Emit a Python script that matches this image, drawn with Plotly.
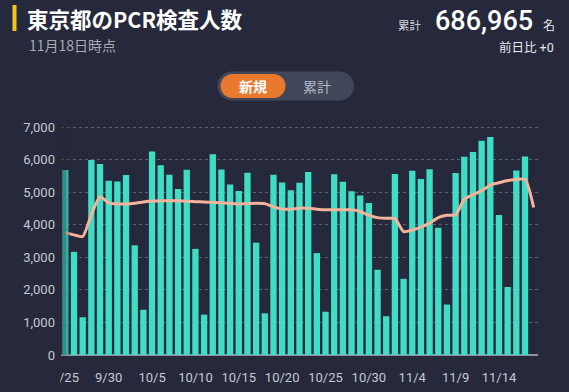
import pandas as pd
import plotly.graph_objects as go

# ---------------- data ----------------
dates = [f"{d.month}/{d.day}" for d in pd.date_range("2020-09-25", "2020-11-18")]

tests = [5680, 3170, 1160, 5990, 5870, 5350, 5330, 5530, 3370, 1390,
         6250, 5830, 5540, 5100, 5690, 3260, 1240, 6170, 5700, 5240,
         5040, 5600, 3450, 1280, 5540, 5300, 5060, 5290, 5620, 3130,
         1330, 5550, 5320, 5030, 4900, 4670, 2620, 1190, 5560, 2340,
         5660, 5410, 5710, 3910, 1550, 5590, 6090, 6240, 6580, 6700,
         4300, 2090, 5670, 6100, 0]

avg7 = [3760, 3690, 3640, 4310, 4860, 4670, 4640, 4640, 4660, 4700,
        4730, 4740, 4740, 4740, 4720, 4710, 4700, 4690, 4680, 4660,
        4640, 4650, 4660, 4650, 4550, 4480, 4480, 4510, 4510, 4480,
        4460, 4460, 4460, 4460, 4410, 4290, 4220, 4200, 4190, 3790,
        3840, 3930, 4050, 4220, 4290, 4310, 4780, 4920, 5050, 5220,
        5290, 5360, 5390, 5400, 4530]

tick_labels = dates[::5]
y_ticks = [0, 1000, 2000, 3000, 4000, 5000, 6000, 7000]

title = "東京都のPCR検査人数"
subtitle = "11月18日時点"
total_label = "累計"
total_value = "686,965"
total_unit = "名"
diff_text = "前日比 +0"
toggle_labels = ["新規", "累計"]

# ---------------- layout geometry ----------------
W, H = 569, 392
L, R, T, B = 61, 31, 126, 37
PW, PH = W - L - R, H - T - B

BG = "#25293b"
BAR = "#3fdcc6"
LINE = "#f5b39c"
JP = "Noto Sans CJK JP"


def px(x):
    return (x - L) / PW


def py(y):
    return (H - B - y) / PH


fig = go.Figure()
fig.add_trace(go.Bar(x=dates, y=tests, marker=dict(color=BAR, line=dict(width=0)),
                     hoverinfo="skip"))
fig.add_trace(go.Scatter(x=dates, y=avg7, mode="lines",
                         line=dict(color=LINE, width=3, shape="spline", smoothing=0.6),
                         hoverinfo="skip"))

shapes = []
# yellow title marker
shapes.append(dict(type="rect", xref="paper", yref="paper", x0=px(12.5), x1=px(16.5),
                   y0=py(31), y1=py(5), fillcolor="#f3c41a", line=dict(width=0)))


def pill(x0, x1, y0, y1, color):
    r = (y1 - y0) / 2
    out = [dict(type="rect", xref="paper", yref="paper", x0=px(x0 + r), x1=px(x1 - r),
                y0=py(y1), y1=py(y0), fillcolor=color, line=dict(width=0)),
           dict(type="circle", xref="paper", yref="paper", x0=px(x0), x1=px(x0 + 2 * r),
                y0=py(y1), y1=py(y0), fillcolor=color, line=dict(width=0)),
           dict(type="circle", xref="paper", yref="paper", x0=px(x1 - 2 * r), x1=px(x1),
                y0=py(y1), y1=py(y0), fillcolor=color, line=dict(width=0))]
    return out


shapes += pill(217.5, 354, 71.5, 100.5, "#41475a")
shapes += pill(220.5, 285.5, 74, 98, "#e8792d")

# scroll fade over the left edge of the plot
shapes.append(dict(type="rect", xref="paper", yref="paper", x0=px(60), x1=px(66),
                   y0=0, y1=1, fillcolor=BG, opacity=0.45, line=dict(width=0), layer="above"))
shapes.append(dict(type="rect", xref="paper", yref="paper", x0=px(66), x1=px(70),
                   y0=0, y1=1, fillcolor=BG, opacity=0.25, line=dict(width=0), layer="above"))
# mask clipping the first date label
shapes.append(dict(type="rect", xref="paper", yref="paper", x0=px(40), x1=px(60.3),
                   y0=py(392), y1=py(363), fillcolor=BG, line=dict(width=0), layer="above"))

ann = []


def text(t, x, y, size, color, xanchor="left", bold=False, family=JP, weight=None):
    f = dict(size=size, color=color, family=family)
    if weight:
        f["weight"] = weight
    ann.append(dict(text=f"<b>{t}</b>" if bold else t, x=px(x), y=py(y), xref="paper",
                    yref="paper", xanchor=xanchor, yanchor="middle", showarrow=False,
                    font=f))


text(title, 25, 18, 21.5, "#ffffff", bold=True)
text(subtitle, 27, 44.5, 14, "#a7abb6")
text(total_label, 423.5, 25, 11.5, "#d3d6dd", xanchor="right")
text(total_value, 433, 20.5, 27, "#ffffff", family="Roboto, " + JP, weight=500)
text(total_unit, 541, 24, 12, "#e6e8ec")
text(diff_text, 556, 47, 12.5, "#e6e8ec", xanchor="right", family="Roboto, " + JP)
text(toggle_labels[0], 253, 86, 14, "#ffffff", xanchor="center", bold=True)
text(toggle_labels[1], 317, 86, 14, "#b3b7c2", xanchor="center")

fig.update_layout(
    width=W, height=H,
    margin=dict(l=L, r=R, t=T, b=B, pad=0, autoexpand=False),
    paper_bgcolor=BG, plot_bgcolor=BG,
    showlegend=False, bargap=0.27,
    shapes=shapes, annotations=ann,
    font=dict(family="Roboto, " + JP, color="#c5c8d0", size=13),
)
fig.update_xaxes(type="category", range=[-0.5, len(dates) - 0.5], automargin=False,
                 tickvals=tick_labels, ticktext=tick_labels, showgrid=False,
                 ticks="", ticklabelstandoff=13, zeroline=False, showline=False,
                 tickfont=dict(size=13, color="#c5c8d0"))
fig.update_yaxes(range=[0, 7035], tickvals=y_ticks, tickformat=",d", automargin=False,
                 showgrid=True, gridcolor="rgba(140,145,160,0.55)", griddash="3px,3px",
                 gridwidth=1, zeroline=True, zerolinecolor="#8d919b", zerolinewidth=1.5,
                 ticks="", ticklabelstandoff=5, showline=False,
                 tickfont=dict(size=13, color="#c5c8d0"))

fig.write_html("out.html", config={"displayModeBar": False},
               post_script="document.body.style.margin='0';"
                           "document.body.style.background='" + BG + "';")
